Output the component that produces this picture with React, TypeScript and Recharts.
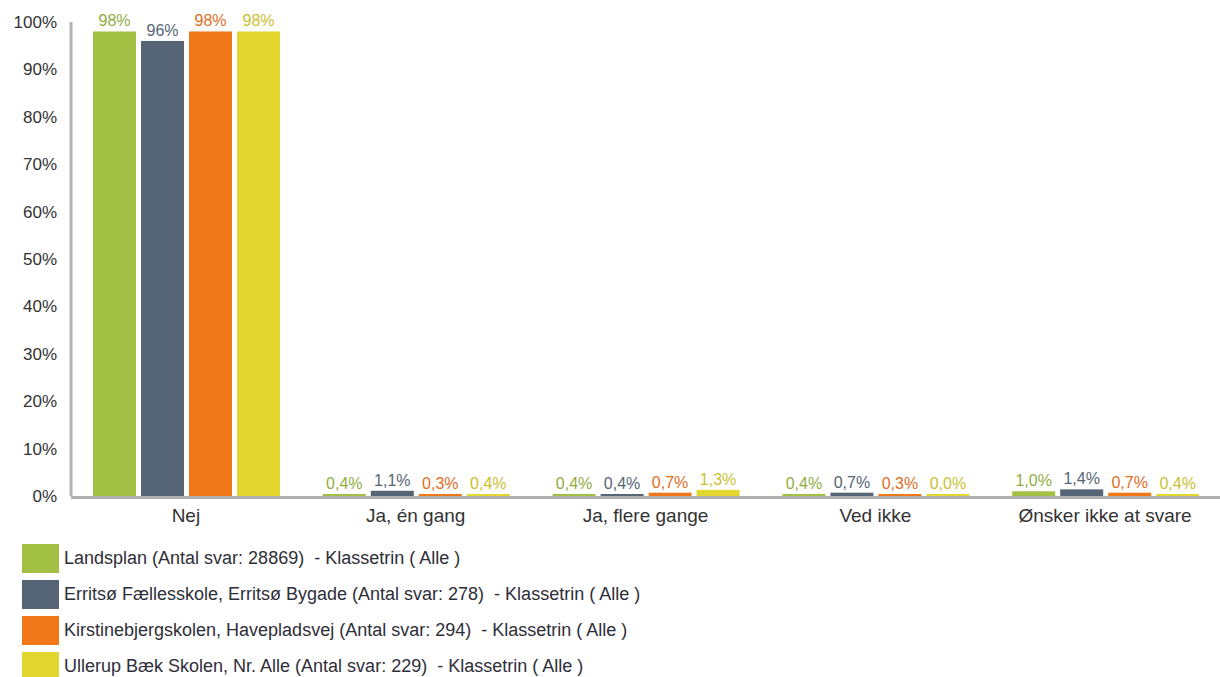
import { BarChart, Bar, XAxis, YAxis, LabelList } from "recharts";

const categories = ["Nej", "Ja, én gang", "Ja, flere gange", "Ved ikke", "Ønsker ikke at svare"];
const landsplan = [98, 0.4, 0.4, 0.4, 1.0];
const erritsoe = [96, 1.1, 0.4, 0.7, 1.4];
const kirstine = [98, 0.3, 0.7, 0.3, 0.7];
const ullerup = [98, 0.4, 1.3, 0.0, 0.4];
const yTicks = [0, 10, 20, 30, 40, 50, 60, 70, 80, 90, 100];

const series = [
  { key: "landsplan", values: landsplan, color: "#a2c144", labelColor: "#8fad3f", name: "Landsplan (Antal svar: 28869)  - Klassetrin ( Alle )" },
  { key: "erritsoe", values: erritsoe, color: "#556575", labelColor: "#556575", name: "Erritsø Fællesskole, Erritsø Bygade (Antal svar: 278)  - Klassetrin ( Alle )" },
  { key: "kirstine", values: kirstine, color: "#f07819", labelColor: "#e06d1e", name: "Kirstinebjergskolen, Havepladsvej (Antal svar: 294)  - Klassetrin ( Alle )" },
  { key: "ullerup", values: ullerup, color: "#e2d72e", labelColor: "#c9c130", name: "Ullerup Bæk Skolen, Nr. Alle (Antal svar: 229)  - Klassetrin ( Alle )" },
];

const data = categories.map((name, i) => {
  const row: Record<string, string | number> = { name };
  series.forEach((s) => (row[s.key] = s.values[i]));
  return row;
});

const fmt = (v: any) => {
  const n = Number(v);
  return n >= 10 ? `${Math.round(n)}%` : `${n.toFixed(1).replace(".", ",")}%`;
};

const font = "'Liberation Sans', Arial, sans-serif";

// bar plus the darker strip where the axis line crosses it
const BarShape = (props: any) => {
  const { x, y, width, height, fill } = props;
  if (width == null || height == null) return null;
  return (
    <g>
      <rect x={x} y={y} width={width} height={height + 3} fill={fill} />
      <rect x={x} y={y + height} width={width} height={3} fill="#000" fillOpacity={0.3} />
    </g>
  );
};

export default function App() {
  return (
    <div style={{ position: "absolute", left: 0, top: 0, width: 1220, height: 677, background: "#fff", fontFamily: font }}>
      <BarChart
        width={1220}
        height={530}
        data={data}
        margin={{ top: 22, right: 0, bottom: 4, left: 0 }}
        barCategoryGap={22}
        barGap={5}
      >
        <YAxis
          domain={[0, 100]}
          ticks={yTicks}
          tickFormatter={(v) => `${v}%`}
          width={71}
          tickLine={false}
          axisLine={{ stroke: "#b3b3b3", strokeWidth: 3 }}
          tick={{ fill: "#333", fontSize: 17, fontFamily: font }}
          tickMargin={8}
          interval={0}
        />
        <XAxis
          dataKey="name"
          axisLine={{ stroke: "#b0b0b0", strokeWidth: 3, transform: "translate(0,1.5)" }}
          tickLine={false}
          height={30}
          tick={{ fill: "#333", fontSize: 19, fontFamily: font }}
          tickMargin={7}
          interval={0}
        />
        {series.map((s) => (
          <Bar key={s.key} dataKey={s.key} fill={s.color} minPointSize={2} shape={BarShape} isAnimationActive={false}>
            <LabelList
              dataKey={s.key}
              position="top"
              offset={5}
              formatter={fmt}
              style={{ fill: s.labelColor, fontSize: 16, fontFamily: font }}
            />
          </Bar>
        ))}
      </BarChart>
      <div style={{ position: "absolute", left: 22, top: 540 }}>
        {series.map((s) => (
          <div key={s.key} style={{ display: "flex", alignItems: "center", height: 36 }}>
            <div style={{ width: 37, height: 29, background: s.color, marginRight: 5, flexShrink: 0 }} />
            <span style={{ fontSize: 18, color: "#2e2e38", whiteSpace: "pre" }}>{s.name}</span>
          </div>
        ))}
      </div>
    </div>
  );
}
